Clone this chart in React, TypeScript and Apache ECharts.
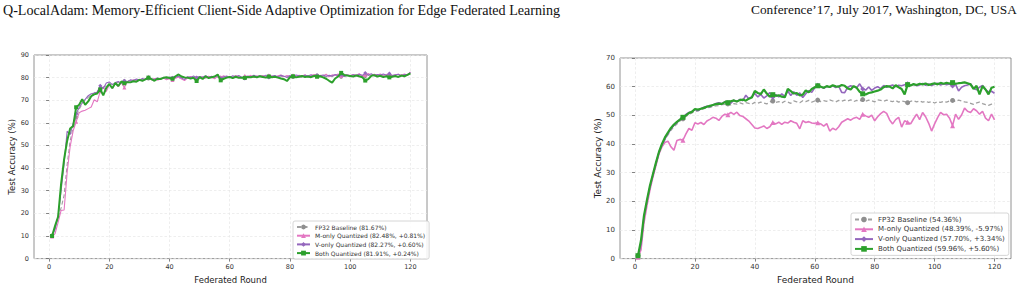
import React, { useEffect, useRef } from "react";
import * as echarts from "echarts";

// Federated rounds (x values) 1..120
const ROUNDS: number[] = [];
for (let r = 1; r <= 120; r++) ROUNDS.push(r);

const X_TICKS = [0, 20, 40, 60, 80, 100, 120];

const HEADER_LEFT = "Q-LocalAdam: Memory-Efficient Client-Side Adaptive Optimization for Edge Federated Learning";
const HEADER_RIGHT = "Conference\u201917, July 2017, Washington, DC, USA";

const L_NAMES = [
  "FP32 Baseline (81.67%)",
  "M-only Quantized (82.48%, +0.81%)",
  "V-only Quantized (82.27%, +0.60%)",
  "Both Quantized (81.91%, +0.24%)",
];
const R_NAMES = [
  "FP32 Baseline (54.36%)",
  "M-only Quantized (48.39%, -5.97%)",
  "V-only Quantized (57.70%, +3.34%)",
  "Both Quantized (59.96%, +5.60%)",
];

// ---------- Left chart ----------
const L_FP32 = [
  10.2, 13.8, 18.5, 22.4, 28.0, 41.5, 52.0, 57.8, 62.5, 66.0,
  68.4, 70.1, 71.3, 72.4, 73.2, 74.1, 75.0, 75.8, 76.4, 77.0,
  77.2, 77.6, 77.9, 78.1, 78.4, 78.5, 78.8, 78.9, 79.0, 79.2,
  79.1, 79.4, 79.6, 79.3, 79.5, 79.7, 79.4, 79.8, 79.6, 79.9,
  79.7, 80.0, 79.8, 80.1, 79.9, 79.6, 80.2, 80.0, 79.8, 80.3,
  80.1, 79.9, 80.2, 80.4, 80.0, 80.3, 79.9, 80.2, 80.5, 80.1,
  80.3, 80.0, 80.4, 80.2, 79.8, 80.5, 80.3, 80.1, 80.6, 80.2,
  80.4, 80.1, 80.5, 80.3, 80.7, 80.2, 80.4, 80.6, 80.0, 80.5,
  80.3, 80.7, 80.4, 80.2, 80.6, 80.8, 80.3, 80.5, 80.9, 80.4,
  80.6, 80.3, 80.8, 80.5, 80.7, 80.9, 80.4, 80.6, 81.0, 80.5,
  80.8, 80.6, 80.3, 80.9, 80.7, 81.0, 80.5, 80.8, 80.6, 81.1,
  80.7, 80.9, 80.5, 81.0, 80.8, 80.6, 81.1, 80.9, 81.2, 81.67,
];
const L_MONLY = [
  9.8, 11.0, 16.0, 21.3, 21.5, 38.0, 49.5, 56.5, 60.5, 64.5,
  65.2, 65.6, 66.3, 67.0, 70.2, 69.3, 74.0, 75.8, 73.8, 76.8,
  75.2, 77.3, 76.0, 77.8, 75.6, 78.3, 78.0, 79.1, 78.4, 79.3,
  78.6, 79.5, 80.4, 79.0, 79.6, 78.9, 79.4, 79.8, 79.1, 79.5,
  79.0, 79.7, 80.3, 79.4, 78.7, 79.9, 80.5, 79.6, 80.2, 79.7,
  80.4, 79.8, 80.6, 80.1, 79.5, 80.7, 80.2, 80.8, 80.0, 80.5,
  80.2, 80.9, 80.3, 79.9, 80.8, 80.4, 81.0, 80.2, 80.7, 80.5,
  80.9, 80.3, 81.1, 80.6, 80.0, 80.8, 81.2, 80.4, 80.9, 80.6,
  81.1, 80.5, 81.0, 80.7, 81.3, 80.2, 80.9, 81.4, 80.6, 81.0,
  80.8, 81.5, 80.4, 81.2, 80.9, 81.6, 80.7, 81.1, 81.3, 80.8,
  81.4, 81.0, 81.7, 80.6, 81.2, 81.8, 80.9, 81.5, 81.1, 81.6,
  81.0, 81.4, 81.7, 80.8, 81.3, 81.5, 81.0, 81.6, 81.2, 82.48,
];
const L_VONLY = [
  10.0, 13.0, 18.5, 30.0, 42.0, 56.3, 54.8, 59.8, 64.0, 66.8,
  68.8, 70.4, 72.0, 72.9, 73.2, 73.6, 76.4, 75.2, 77.6, 78.1,
  76.9, 77.8, 78.3, 77.5, 78.6, 78.2, 79.0, 78.7, 79.4, 78.9,
  79.6, 79.2, 80.0, 79.5, 79.1, 79.8, 79.4, 80.1, 79.7, 80.3,
  79.9, 80.2, 80.6, 79.8, 79.2, 80.4, 80.1, 80.7, 79.9, 80.5,
  80.2, 80.8, 80.0, 80.6, 80.3, 80.9, 79.7, 80.4, 80.7, 80.1,
  80.8, 80.4, 80.9, 80.2, 79.6, 80.7, 80.3, 81.0, 80.5, 80.8,
  80.4, 81.1, 80.0, 80.7, 80.9, 80.3, 81.0, 80.6, 80.2, 80.9,
  80.5, 81.2, 80.8, 80.4, 81.0, 80.7, 81.3, 80.5, 81.1, 80.8,
  81.2, 80.6, 81.0, 80.7, 81.4, 80.9, 81.3, 80.5, 81.1, 80.8,
  81.3, 80.9, 81.5, 81.0, 82.0, 81.2, 81.7, 80.8, 81.4, 81.1,
  81.6, 81.0, 81.8, 80.9, 81.3, 81.5, 80.7, 81.4, 81.2, 82.27,
];
const L_BOTH = [
  10.0, 14.5, 18.5, 33.0, 44.0, 52.0, 57.5, 58.6, 66.9, 68.0,
  70.5, 68.0, 69.5, 71.8, 72.6, 73.0, 74.8, 72.2, 75.5, 77.2,
  75.3, 77.6, 76.3, 78.3, 77.5, 78.0, 77.9, 78.4, 78.2, 79.0,
  78.6, 79.2, 80.0, 79.3, 78.6, 79.5, 79.4, 79.9, 80.2, 79.8,
  79.5, 80.6, 81.4, 80.5, 80.1, 80.0, 79.6, 79.9, 78.5, 80.2,
  79.4, 80.6, 79.8, 80.2, 80.5, 81.4, 78.8, 79.5, 80.0, 80.3,
  79.8, 80.4, 79.9, 80.0, 79.9, 80.3, 80.2, 80.5, 80.1, 80.6,
  80.3, 80.0, 80.5, 80.2, 80.4, 80.0, 79.6, 79.3, 78.5, 80.2,
  80.6, 80.1, 80.4, 80.7, 80.3, 80.5, 80.2, 80.8, 80.4, 80.6,
  80.1, 79.5, 78.6, 77.8, 79.6, 80.5, 82.1, 81.2, 80.9, 80.7,
  80.5, 81.0, 80.6, 80.2, 78.7, 79.3, 80.8, 81.1, 80.5, 80.8,
  80.3, 80.6, 80.1, 80.4, 80.7, 80.3, 80.9, 80.6, 81.2, 81.91,
];

// ---------- Right chart ----------
const R_FP32 = [
  1.0, 4.5, 14.0, 19.5, 24.5, 29.0, 33.0, 37.0, 39.3, 41.5,
  43.2, 44.8, 46.0, 47.0, 48.0, 48.8, 49.6, 50.3, 50.8, 51.3,
  51.6, 52.0, 52.3, 52.6, 52.8, 53.1, 53.3, 53.4, 53.7, 53.8,
  54.0, 53.6, 54.1, 53.9, 54.3, 54.0, 54.4, 54.2, 53.9, 54.5,
  54.2, 54.6, 54.3, 54.0, 54.7, 55.0, 54.5, 54.8, 54.3, 54.9,
  54.6, 54.2, 55.0, 54.7, 54.4, 55.1, 54.8, 55.2, 54.6, 55.0,
  55.3, 54.8, 55.1, 54.9, 55.4, 55.0, 54.7, 55.2, 54.9, 55.3,
  55.0, 55.4, 54.8, 55.2, 55.0, 55.5, 54.9, 55.3, 55.1, 54.7,
  55.4, 55.2, 54.9, 55.3, 55.0, 54.8, 55.2, 54.6, 55.0, 54.8,
  54.4, 54.9, 55.1, 54.7, 55.0, 54.6, 54.9, 54.5, 54.8, 54.3,
  54.7, 54.5, 54.9, 54.6, 55.0, 55.2, 54.8, 55.3, 55.0, 54.7,
  54.5, 54.2, 53.8, 54.3, 54.6, 54.1, 53.7, 53.5, 53.9, 54.36,
];
const R_MONLY = [
  0.5, 3.0, 12.5, 18.5, 24.0, 28.5, 32.5, 36.5, 39.0, 40.5,
  41.0, 39.0, 37.8, 41.2, 41.6, 41.3, 43.5, 45.4, 44.8, 47.4,
  47.0, 47.5, 46.8, 48.0, 48.6, 49.3, 49.0, 48.2, 49.6, 50.4,
  50.2, 51.0, 50.3, 51.1, 49.9, 49.6, 48.8, 48.0, 46.8, 45.6,
  45.4, 45.8, 46.3, 45.4, 46.0, 47.5, 47.0, 47.6, 46.8, 47.6,
  47.3, 48.1, 47.6, 47.2, 45.3, 48.1, 47.5, 47.8, 47.3, 47.2,
  47.4, 47.0, 46.2, 47.1, 44.5, 45.5, 44.9, 46.0, 47.6, 48.2,
  48.8, 48.3, 49.0, 49.3, 48.6, 50.4, 49.8, 49.3, 50.1, 48.1,
  49.5, 50.6, 51.4, 50.7, 48.4, 47.0, 48.5, 49.3, 45.9, 48.1,
  47.6, 47.0, 48.8, 50.4, 48.5, 51.0, 49.5, 47.3, 44.5, 47.0,
  49.2, 51.0, 50.2, 50.4, 49.0, 46.4, 50.4, 48.6, 50.1, 52.5,
  51.4, 51.0, 52.3, 51.6, 50.4, 51.4, 49.0, 48.1, 50.4, 48.39,
];
const R_VONLY = [
  1.0, 5.0, 14.5, 20.0, 25.0, 29.2, 33.2, 37.1, 39.6, 41.8,
  43.6, 45.2, 46.5, 47.4, 48.6, 49.2, 50.3, 51.0, 51.3, 52.0,
  51.6, 52.3, 52.8, 53.2, 53.0, 53.6, 54.1, 54.4, 54.0, 54.8,
  54.5, 54.2, 55.3, 54.8, 55.6, 55.1, 57.0, 55.8, 56.5, 57.6,
  56.4, 57.3, 56.0, 56.8, 57.9, 56.3, 57.2, 56.4, 57.5, 56.6,
  58.5, 56.9, 58.2, 57.0, 57.8, 56.2, 57.5, 58.6, 58.0, 59.6,
  60.5, 60.0, 59.4, 60.1, 59.8, 60.3, 59.7, 60.2, 58.0, 57.9,
  59.8, 60.3, 60.0, 59.6, 61.0, 59.2, 58.8, 59.9, 58.7, 59.5,
  60.0, 59.3, 60.4, 59.8, 60.2, 60.6, 60.0, 60.5, 60.3, 60.7,
  61.0, 60.4, 60.8, 60.3, 60.6, 61.1, 60.5, 60.9, 60.4, 60.8,
  61.2, 60.6, 61.0, 60.7, 60.9, 60.2, 60.8, 58.5, 59.8, 60.3,
  60.6, 61.0, 59.5, 58.9, 59.8, 60.4, 59.0, 58.2, 58.4, 57.70,
];
const R_BOTH = [
  1.0, 6.3, 15.0, 20.5, 25.5, 29.5, 33.5, 37.2, 40.0, 42.3,
  44.0, 45.6, 46.8, 47.7, 48.5, 49.3, 50.0, 50.8, 51.2, 52.2,
  52.0, 52.3, 52.6, 53.0, 53.3, 53.6, 53.9, 54.1, 54.0, 54.6,
  54.4, 54.9, 55.2, 54.8, 55.3, 55.5, 55.1, 55.8, 56.2, 58.5,
  57.8, 57.4, 59.0, 57.6, 56.5, 57.2, 56.8, 57.0, 56.5, 56.3,
  59.2, 58.4, 57.6, 57.8, 56.9, 57.2, 58.7, 58.0, 59.2, 59.8,
  60.3, 60.0, 59.6, 60.2, 59.9, 60.5, 60.1, 60.0, 60.6, 60.3,
  59.4, 59.0, 60.2, 59.6, 58.2, 57.5, 57.3, 57.8, 58.0, 58.3,
  58.6, 59.0, 59.8, 60.2, 60.0, 59.4, 60.5, 59.8, 59.2, 57.3,
  60.7, 60.4, 60.9, 60.6, 61.0, 60.8, 61.1, 60.6, 60.9, 61.2,
  60.8, 61.3, 61.0, 61.3, 61.1, 61.4, 61.0, 61.2, 61.3, 61.5,
  61.2, 60.8, 59.2, 60.3, 57.3, 60.2, 59.0, 57.3, 59.6, 59.96,
];

const COLORS = ["#8f8f8f", "#e377c2", "#9467bd", "#2ca02c"];
const SYMBOLS = ["circle", "triangle", "diamond", "rect"];

function makeSeries(
  name: string,
  values: number[],
  k: number,
  gi: number,
  every: number,
  width: number,
  symSize: number
) {
  return {
    type: "line",
    name,
    xAxisIndex: gi,
    yAxisIndex: gi,
    symbol: SYMBOLS[k],
    symbolSize: symSize,
    showAllSymbol: true,
    data: values.map((v, i) => ({
      value: [ROUNDS[i], v],
      symbol: i % every === 0 ? SYMBOLS[k] : "none",
    })),
    lineStyle: {
      color: COLORS[k],
      width,
      type: k === 0 ? [4, 2.5] : "solid",
      opacity: k === 0 ? 0.85 : 1,
    },
    itemStyle: { color: COLORS[k] },
    z: 2 + k,
    silent: true,
  };
}

const FONT = "DejaVu Sans";

function xAxis(gi: number, fs: number, nameFs: number) {
  return {
    type: "value",
    gridIndex: gi,
    min: -5,
    max: 125.5,
    name: "Federated Round",
    nameLocation: "middle",
    nameGap: 12,
    nameTextStyle: { fontFamily: FONT, fontSize: nameFs, color: "#222" },
    axisLine: { show: false },
    axisTick: { show: true, length: 3, lineStyle: { color: "#666", width: 0.8 }, customValues: X_TICKS },
    axisLabel: { fontFamily: FONT, fontSize: fs, color: "#333", margin: 4.5, customValues: X_TICKS },
    splitLine: { show: true, lineStyle: { color: "#e6e6e6", type: [2.5, 2], width: 0.7 } },
  };
}

function yAxis(gi: number, max: number, fs: number, nameFs: number) {
  return {
    type: "value",
    gridIndex: gi,
    min: 0,
    max,
    interval: 10,
    name: "Test Accuracy (%)",
    nameLocation: "middle",
    nameGap: 17,
    nameTextStyle: { fontFamily: FONT, fontSize: nameFs, color: "#222" },
    axisLine: { show: false },
    axisTick: { show: true, length: 3, lineStyle: { color: "#666", width: 0.8 } },
    axisLabel: { fontFamily: FONT, fontSize: fs, color: "#333", margin: 5 },
    splitLine: { show: true, lineStyle: { color: "#e6e6e6", type: [2.5, 2], width: 0.7 } },
  };
}

export default function App() {
  const ref = useRef<HTMLDivElement>(null);
  useEffect(() => {
    if (!ref.current) return;
    const chart = echarts.init(ref.current, null, { renderer: "svg" });
    const L = [L_FP32, L_MONLY, L_VONLY, L_BOTH];
    const R = [R_FP32, R_MONLY, R_VONLY, R_BOTH];
    const series: any[] = [];
    L.forEach((vals, k) =>
      series.push(makeSeries(L_NAMES[k], vals, k, 0, 8, k === 3 ? 2 : 1.1, 4))
    );
    R.forEach((vals, k) =>
      series.push(makeSeries(R_NAMES[k], vals, k, 1, 15, k === 3 ? 2.2 : k === 0 ? 1.3 : 1.6, 5))
    );
    chart.setOption({
      animation: false,
      backgroundColor: "#ffffff",
      graphic: [
        {
          type: "text",
          left: 3,
          top: 3,
          style: { text: HEADER_LEFT, font: '14.1px "Liberation Serif"', fill: "#111" },
        },
        {
          type: "text",
          right: 4,
          top: 3,
          style: { text: HEADER_RIGHT, font: '13.3px "Liberation Serif"', fill: "#111" },
        },
      ],
      grid: [
        { left: 34, top: 55, width: 393, height: 207, show: true, borderColor: "#777", borderWidth: 0.8, backgroundColor: "transparent" },
        { left: 620, top: 58, width: 391, height: 203, show: true, borderColor: "#777", borderWidth: 0.8, backgroundColor: "transparent" },
      ],
      xAxis: [xAxis(0, 6.5, 8.5), xAxis(1, 7, 9)],
      yAxis: [yAxis(0, 90, 6.5, 8.5), yAxis(1, 70, 7, 9)],
      legend: [
        {
          data: L_NAMES,
          orient: "vertical",
          left: 293,
          top: 221,
          itemWidth: 13,
          itemHeight: 6,
          itemGap: 2.7,
          selectedMode: false,
          padding: [3, 4, 3, 3],
          borderColor: "#cccccc",
          borderWidth: 0.8,
          borderRadius: 2,
          backgroundColor: "rgba(255,255,255,0.85)",
          textStyle: { fontFamily: FONT, fontSize: 6, color: "#333" },
        },
        {
          data: R_NAMES,
          orient: "vertical",
          left: 851,
          top: 213,
          itemWidth: 18,
          itemHeight: 7,
          itemGap: 2.8,
          selectedMode: false,
          padding: [3, 4, 3, 3],
          borderColor: "#cccccc",
          borderWidth: 0.8,
          borderRadius: 2,
          backgroundColor: "rgba(255,255,255,0.85)",
          textStyle: { fontFamily: FONT, fontSize: 7, color: "#333" },
        },
      ],
      series,
    });
    return () => chart.dispose();
  }, []);
  return (
    <div
      ref={ref}
      style={{ position: "absolute", left: 0, top: 0, width: 1021, height: 289, background: "#fff" }}
    />
  );
}
